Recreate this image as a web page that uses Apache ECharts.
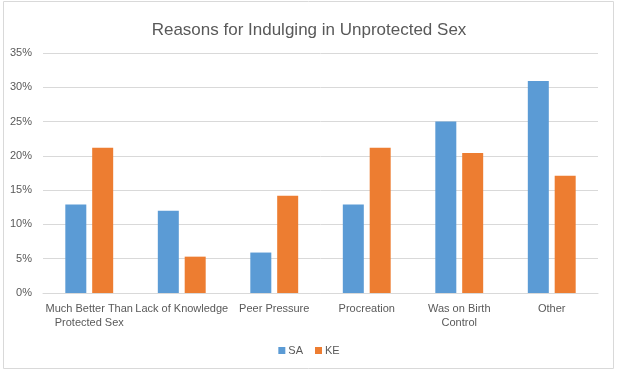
<!DOCTYPE html>
<html>
<head>
<meta charset="utf-8">
<script src="https://cdn.jsdelivr.net/npm/echarts@6/dist/echarts.min.js"></script>
<style>
  html, body { margin: 0; padding: 0; background: #fff; }
  #main { width: 618px; height: 376px; }
</style>
</head>
<body>
<div id="main"></div>
<script>
var categories = ['Much Better Than\nProtected Sex', 'Lack of Knowledge', 'Peer Pressure', 'Procreation', 'Was on Birth\nControl', 'Other'];
var saValues = [12.9, 12.0, 5.9, 12.9, 25.0, 30.9];
var keValues = [21.2, 5.3, 14.2, 21.2, 20.4, 17.1];
var yTicks = [0, 5, 10, 15, 20, 25, 30, 35];

var font = 'Liberation Sans';
var myChart = echarts.init(document.getElementById('main'));
myChart.setOption({
  animation: false,
  textStyle: { fontFamily: font },
  graphic: [{
    type: 'rect',
    shape: { x: 3.5, y: 1.5, width: 610, height: 367 },
    style: { fill: 'none', stroke: '#d9d9d9', lineWidth: 1 },
    silent: true
  }],
  title: {
    text: 'Reasons for Indulging in Unprotected Sex',
    left: 'center',
    top: 17,
    textStyle: { fontFamily: font, fontSize: 17, fontWeight: 'normal', color: '#595959' }
  },
  legend: {
    bottom: 15,
    left: 'center',
    itemWidth: 7,
    itemHeight: 7,
    itemGap: 12,
    icon: 'rect',
    textStyle: { fontFamily: font, fontSize: 11, color: '#595959', padding: [0, 0, 0, -2] },
    data: ['SA', 'KE']
  },
  grid: { left: 43, right: 20, top: 53, bottom: 83 },
  xAxis: {
    type: 'category',
    data: categories,
    axisTick: { show: false },
    axisLine: { lineStyle: { color: '#d9d9d9' } },
    axisLabel: {
      color: '#595959',
      fontSize: 11,
      margin: 9,
      interval: 0,
      lineHeight: 14
    }
  },
  yAxis: {
    type: 'value',
    min: yTicks[0],
    max: yTicks[yTicks.length - 1],
    interval: 5,
    axisLine: { show: false },
    axisTick: { show: false },
    splitLine: { lineStyle: { color: '#d9d9d9' } },
    axisLabel: { color: '#595959', fontSize: 11, margin: 11, formatter: '{value}%' }
  },
  series: [
    { name: 'SA', type: 'bar', data: saValues, barWidth: '22.7%', barGap: '28%', itemStyle: { color: '#5b9bd5' } },
    { name: 'KE', type: 'bar', data: keValues, barWidth: '22.7%', itemStyle: { color: '#ed7d31' } }
  ]
});
</script>
</body>
</html>
